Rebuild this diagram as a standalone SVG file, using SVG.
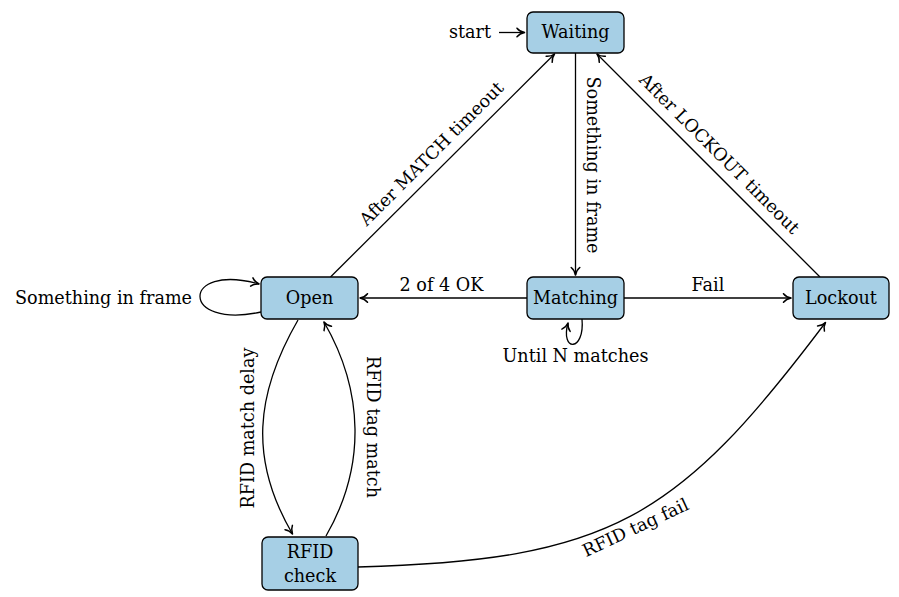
<svg xmlns="http://www.w3.org/2000/svg" width="899" height="597" viewBox="0 0 899 597">
<defs>
<style>
.box{fill:#a6cfe5;stroke:#000;stroke-width:1.3}
.t{font-family:"DejaVu Serif","Liberation Serif",serif;font-size:17.6px;fill:#000}
.m{text-anchor:middle}
.e{fill:none;stroke:#000;stroke-width:1.3;marker-end:url(#arr)}
</style>
<marker id="arr" markerUnits="userSpaceOnUse" markerWidth="14" markerHeight="14" refX="0" refY="0" viewBox="-10 -7 12 14" orient="auto">
<path d="M-7.5,-4.3 C-5.5,-1.8 -2.2,-0.4 0,0 C-2.2,0.4 -5.5,1.8 -7.5,4.3" fill="none" stroke="#000" stroke-width="1.5" stroke-linecap="round" stroke-linejoin="round"/>
</marker>
</defs>
<rect width="899" height="597" fill="#fff"/>
<g id="connectors">
<path class="e" d="M499,32.5 L524.5,32.5"/>
<path class="e" d="M575.5,53 L575.5,275"/>
<path class="e" d="M527,298 L360,298"/>
<path class="e" d="M624,298 L791,298"/>
<path class="e" d="M330.5,277 L554.5,54"/>
<path class="e" d="M820,277 L597,54"/>
<path class="e" d="M261,312 C180,330 180,262 259,284"/>
<path class="e" d="M582,319 C585,352 560,352 568,323"/>
<path class="e" d="M298,320 C255,394.5 249,459.5 292.5,534"/>
<path class="e" d="M326,536 C366,466.7 364,391.3 324,322"/>
<path class="e" d="M358,567 C610,560 677,520 825.5,322.5"/>
</g>
<g id="edge-labels">
<text class="t" x="491" y="38" text-anchor="end">start</text>
<text class="t m" transform="translate(587,165) rotate(90)">Something in frame</text>
<text class="t m" x="441.5" y="291">2 of 4 OK</text>
<text class="t m" x="708" y="291">Fail</text>
<text class="t m" transform="translate(435.7,157.9) rotate(-45)">After MATCH timeout</text>
<text class="t m" transform="translate(715.3,157.9) rotate(45)">After LOCKOUT timeout</text>
<text class="t" x="192" y="303.5" text-anchor="end">Something in frame</text>
<text class="t m" x="575.5" y="362">Until N matches</text>
<text class="t m" transform="translate(254,428) rotate(-90)">RFID match delay</text>
<text class="t m" transform="translate(367,427) rotate(90)">RFID tag match</text>
<text class="t m" transform="translate(638,533) rotate(-25)">RFID tag fail</text>
</g>
<g id="node-waiting">
<rect class="box" x="527" y="12" width="97" height="41" rx="6"/>
<text class="t m" x="575.5" y="37.8">Waiting</text>
</g>
<g id="node-open">
<rect class="box" x="261" y="277" width="97" height="42" rx="6"/>
<text class="t m" x="309.5" y="303.5">Open</text>
</g>
<g id="node-matching">
<rect class="box" x="527" y="277" width="97" height="42" rx="6"/>
<text class="t m" x="575.5" y="303.5">Matching</text>
</g>
<g id="node-lockout">
<rect class="box" x="793" y="277" width="96" height="42" rx="6"/>
<text class="t m" x="841" y="303.5">Lockout</text>
</g>
<g id="node-rfid-check">
<rect class="box" x="262" y="537" width="96" height="53" rx="6"/>
<text class="t m" x="310" y="558">RFID</text>
<text class="t m" x="310" y="582">check</text>
</g>
</svg>
